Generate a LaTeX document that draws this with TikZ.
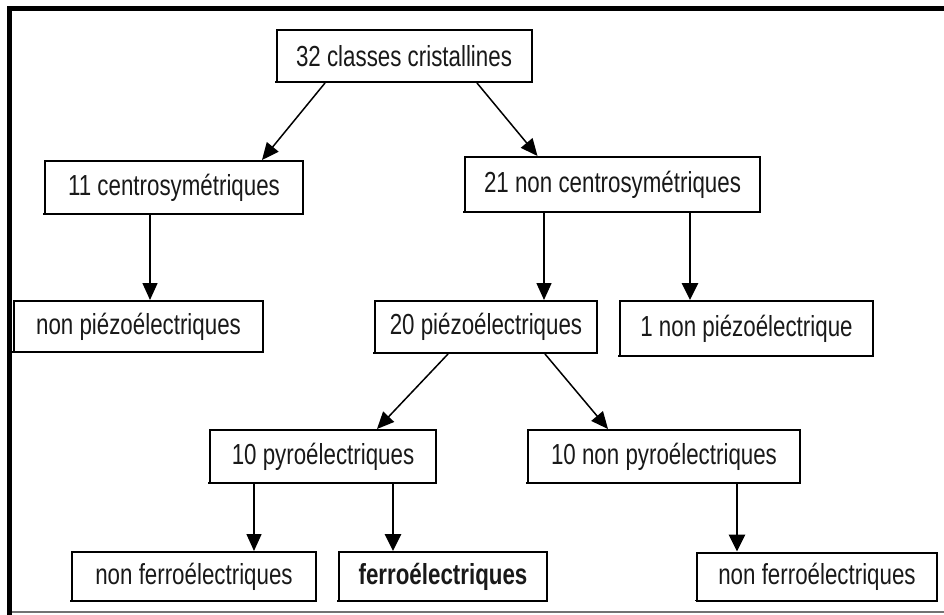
\documentclass[tikz,border=0pt]{standalone}
\usepackage{fontspec}
\setmainfont{Liberation Sans}[FakeStretch=0.77]
\usetikzlibrary{arrows.meta}
\begin{document}
\begin{tikzpicture}[x=1pt,y=-1pt,
  box/.style={draw=black, line width=2pt, fill=white, inner sep=0pt,
    font=\fontsize{29}{32}\selectfont, text=black!90},
  arr/.style={line width=1.5pt, -{Triangle[length=17pt,width=15pt]}},
  arrthick/.style={line width=2.8pt, -{Triangle[length=17pt,width=16pt]}},
  shade/.style={line width=1.8pt, line cap=rect}]
\useasboundingbox (0,0) rectangle (944,615);
\fill[white] (0,0) rectangle (944,615);
% outer frame
\draw[line width=5pt] (944,8.5) -- (9.5,8.5) -- (9.5,615);
\draw[black!55, line width=1.5pt] (12,612) -- (944,612);

% nodes
\node[box, minimum width=255pt, minimum height=52pt] (c32) at (404,56) {32 classes cristallines};
\node[box, minimum width=258pt, minimum height=53pt] (c11) at (174,187.5) {11 centrosymétriques};
\node[box, minimum width=295pt, minimum height=55pt] (c21) at (612.5,184.5) {21 non centrosymétriques};
\node[box, minimum width=249pt, minimum height=51pt] (npz) at (138.5,326.5) {non piézoélectriques};
\node[box, minimum width=222pt, minimum height=52pt] (pz20) at (486,327) {20 piézoélectriques};
\node[box, minimum width=253pt, minimum height=55pt] (npz1) at (746.5,328.5) {1 non piézoélectrique};
\node[box, minimum width=226pt, minimum height=53pt] (py10) at (323,456.5) {10 pyroélectriques};
\node[box, minimum width=272pt, minimum height=53pt] (npy10) at (664,456.5) {10 non pyroélectriques};
\node[box, minimum width=244pt, minimum height=49pt] (nf1) at (194,576.5) {non ferroélectriques};
\node[box, minimum width=208pt, minimum height=49pt] (fe) at (443,576.5) {\bfseries ferroélectriques};
\node[box, minimum width=240pt, minimum height=48pt] (nf2) at (817,576.5) {non ferroélectriques};

% heavier bottom/right edges
\foreach \n in {c32,c11,c21,npz,pz20,npz1,py10,npy10,nf1,fe,nf2}{
  \draw[shade] ([shift={(0.2,-1)}]\n.south west) -- ([shift={(-1,-1)}]\n.south east) -- ([shift={(-1,1)}]\n.north east);
}

% connectors
\draw[arr] ([xshift=-79]c32.south) -- ([xshift=88]c11.north);
\draw[arr] ([xshift=73]c32.south) -- ([xshift=-75]c21.north);
\draw[arr] ([xshift=-24]c11.south) -- ([xshift=-24]c11.south |- npz.north);
\draw[arr] ([xshift=-68.5]c21.south) -- ([xshift=-68.5]c21.south |- pz20.north);
\draw[arrthick] ([xshift=77.5]c21.south) -- ([xshift=77.5]c21.south |- npz1.north);
\draw[arr] ([xshift=-38]pz20.south) -- ([xshift=54]py10.north);
\draw[arr] ([xshift=59]pz20.south) -- ([xshift=-56]npy10.north);
\draw[arr] ([xshift=-69]py10.south) -- ([xshift=-69]py10.south |- nf1.north);
\draw[arrthick] ([xshift=70]py10.south) -- ([xshift=70]py10.south |- fe.north);
\draw[arrthick] ([xshift=73]npy10.south) -- ([xshift=73]npy10.south |- nf2.north);
\end{tikzpicture}
\end{document}
